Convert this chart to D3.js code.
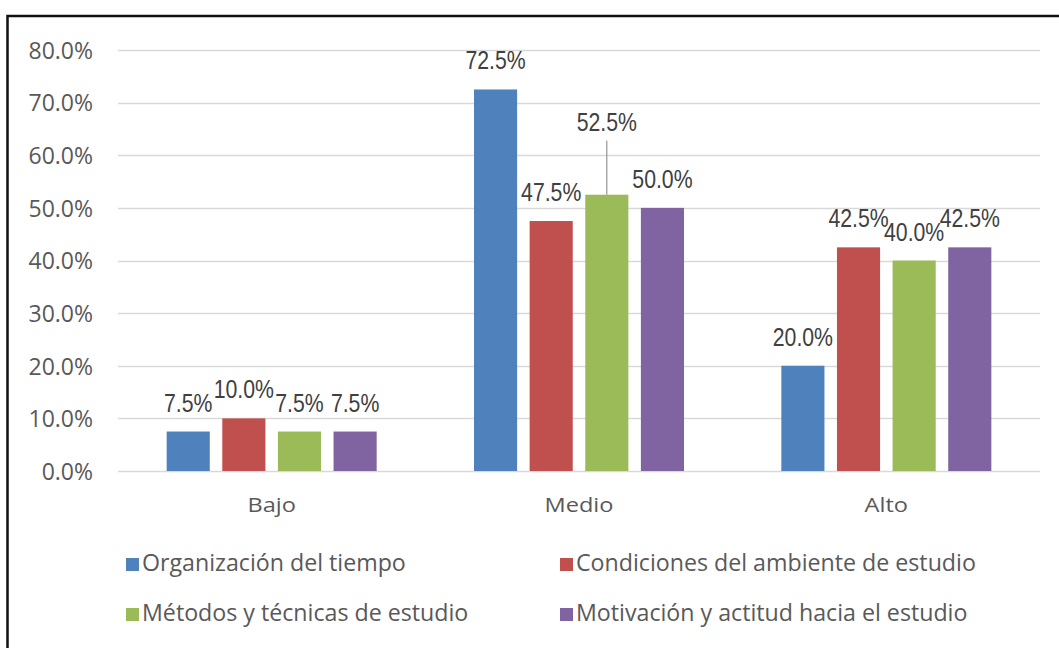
<!DOCTYPE html>
<html>
<head>
<meta charset="utf-8">
<script src="https://cdn.jsdelivr.net/npm/d3@7"></script>
<style>
  html, body { margin: 0; padding: 0; background: #fff; }
  svg { display: block; }
</style>
</head>
<body>
<svg id="chart" width="1059" height="648"></svg>
<script>
// Niveles evaluados y porcentaje de estudiantes por dimensión
const categories = ["Bajo", "Medio", "Alto"];
const seriesNames = [
  "Organización del tiempo",
  "Condiciones del ambiente de estudio",
  "Métodos y técnicas de estudio",
  "Motivación y actitud hacia el estudio"
];
const organizacion = [0.075, 0.725, 0.200];
const condiciones  = [0.100, 0.475, 0.425];
const metodos      = [0.075, 0.525, 0.400];
const motivacion   = [0.075, 0.500, 0.425];
const yTicks = [0, 0.1, 0.2, 0.3, 0.4, 0.5, 0.6, 0.7, 0.8];

const seriesValues = [organizacion, condiciones, metodos, motivacion];
const colors = ["#4f81bd", "#c0504d", "#9bbb59", "#8064a2"];

const svg = d3.select("#chart");
const W = 1059, H = 648;
const plot = { left: 118, right: 1040, top: 50, bottom: 471 };
const uiFont = "'Open Sans', 'DejaVu Sans', sans-serif";

// Outer chart frame (extends past the visible area on the right/bottom)
svg.append("rect")
  .attr("x", 7.5).attr("y", 16)
  .attr("width", W + 20).attr("height", H + 20)
  .attr("fill", "#fff")
  .attr("stroke", "#111").attr("stroke-width", 2.5);

const x0 = d3.scaleBand().domain(categories).range([plot.left, plot.right]).padding(0);
const x1 = d3.scaleBand().domain(d3.range(seriesNames.length))
  .range([-105, 105]).paddingInner(0.225).paddingOuter(0);
const y = d3.scaleLinear().domain([0, 0.8]).range([plot.bottom, plot.top]);

// Horizontal gridlines
svg.append("g")
  .selectAll("line")
  .data(yTicks)
  .join("line")
  .attr("x1", plot.left).attr("x2", plot.right)
  .attr("y1", d => Math.round(y(d)) + 0.5).attr("y2", d => Math.round(y(d)) + 0.5)
  .attr("stroke", "#d9d9d9").attr("stroke-width", 1.3);

// Y axis labels
const yAxis = d3.axisLeft(y).tickValues(yTicks).tickFormat(d3.format(".1%")).tickSize(0).tickPadding(0);
const gy = svg.append("g").attr("transform", "translate(93,0)").call(yAxis);
gy.select(".domain").remove();
gy.selectAll("text")
  .attr("font-family", uiFont)
  .attr("font-size", 23).attr("fill", "#595959").attr("dy", "0.36em");

// X axis labels (slightly widened glyphs)
const xAxis = d3.axisBottom(x0).tickSize(0).tickPadding(0);
const gx = svg.append("g").call(xAxis);
gx.select(".domain").remove();
gx.selectAll(".tick").attr("transform", d => `translate(${x0(d) + x0.bandwidth() / 2},512) scale(1.15,1)`);
gx.selectAll("text")
  .attr("y", 0).attr("dy", 0)
  .attr("font-family", uiFont)
  .attr("font-size", 20.5).attr("fill", "#595959");

// Bars
const rows = [];
categories.forEach((c, ci) => {
  seriesValues.forEach((vals, si) => rows.push({ cat: c, si, v: vals[ci] }));
});

svg.append("g").selectAll("rect")
  .data(rows)
  .join("rect")
  .attr("x", d => x0(d.cat) + x0.bandwidth() / 2 + x1(d.si))
  .attr("width", x1.bandwidth())
  .attr("y", d => y(d.v))
  .attr("height", d => y(0) - y(d.v))
  .attr("fill", d => colors[d.si]);

// Data labels; the Medio / Métodos label is lifted and tied to its bar with a leader line
const labelGap = 20;
const lifted = d => d.cat === "Medio" && d.si === 2;
const liftAmount = 44;
const cx = d => x0(d.cat) + x0.bandwidth() / 2 + x1(d.si) + x1.bandwidth() / 2;

svg.append("g").selectAll("line")
  .data(rows.filter(lifted))
  .join("line")
  .attr("x1", cx).attr("x2", cx)
  .attr("y1", d => y(d.v) - labelGap - liftAmount + 10)
  .attr("y2", d => y(d.v))
  .attr("stroke", "#7f7f7f").attr("stroke-width", 1);

svg.append("g").selectAll("text")
  .data(rows)
  .join("text")
  .attr("transform", d => `translate(${cx(d)},${y(d.v) - labelGap - (lifted(d) ? liftAmount : 0)}) scale(0.85,1)`)
  .attr("text-anchor", "middle")
  .attr("font-family", "'Liberation Sans', Arial, sans-serif")
  .attr("font-size", 25)
  .attr("fill", "#404040")
  .text(d => d3.format(".1%")(d.v));

// Legend (two columns, two rows)
const legendPos = [[126, 563], [560, 563], [126, 613], [560, 613]];
const lg = svg.append("g").selectAll("g")
  .data(seriesNames)
  .join("g")
  .attr("transform", (d, i) => `translate(${legendPos[i][0]},${legendPos[i][1]})`);
lg.append("rect")
  .attr("x", 0).attr("y", -5).attr("width", 13).attr("height", 13)
  .attr("fill", (d, i) => colors[i]);
lg.append("text")
  .attr("x", 16).attr("y", 0).attr("dy", "0.35em")
  .attr("font-family", uiFont)
  .attr("font-size", 23.2).attr("fill", "#595959")
  .text(d => d);
</script>
</body>
</html>
